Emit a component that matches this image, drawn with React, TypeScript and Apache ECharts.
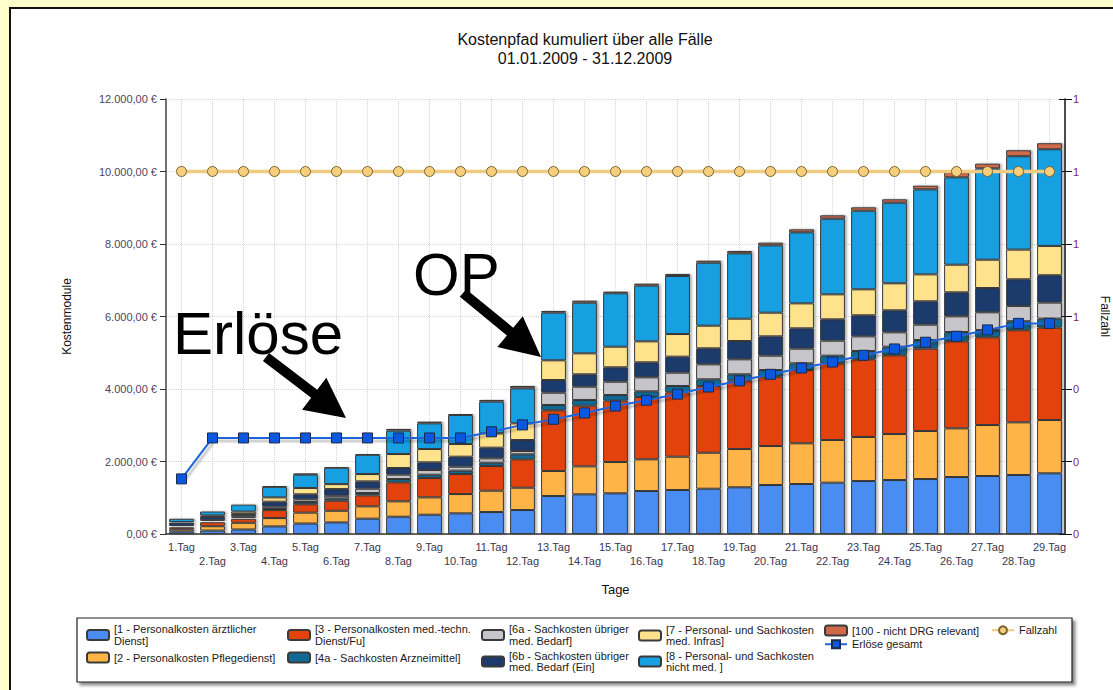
import React, { useEffect, useRef } from 'react';
import * as echarts from 'echarts';

const FONT = "'Liberation Sans', Arial, sans-serif";

const days = [
  '1.Tag', '2.Tag', '3.Tag', '4.Tag', '5.Tag', '6.Tag', '7.Tag', '8.Tag', '9.Tag', '10.Tag',
  '11.Tag', '12.Tag', '13.Tag', '14.Tag', '15.Tag', '16.Tag', '17.Tag', '18.Tag', '19.Tag', '20.Tag',
  '21.Tag', '22.Tag', '23.Tag', '24.Tag', '25.Tag', '26.Tag', '27.Tag', '28.Tag', '29.Tag',
];

const k1 = [70, 95, 125, 210, 290, 320, 423, 478, 533, 570, 607, 662, 1048, 1094, 1122, 1186, 1214, 1250, 1288, 1352, 1379, 1416, 1462, 1490, 1517, 1572, 1600, 1628, 1674];
const k2 = [60, 120, 185, 230, 300, 322, 340, 423, 478, 533, 588, 616, 690, 772, 864, 874, 919, 993, 1057, 1076, 1123, 1177, 1214, 1269, 1324, 1343, 1407, 1453, 1471];
const k3 = [55, 110, 110, 221, 230, 276, 303, 524, 534, 552, 681, 782, 1674, 1674, 1692, 1719, 1775, 1840, 1885, 1912, 2022, 2115, 2143, 2170, 2272, 2400, 2419, 2540, 2550];
const k4a = [20, 25, 25, 28, 64, 64, 64, 92, 92, 92, 92, 138, 147, 157, 156, 157, 175, 184, 175, 184, 184, 212, 229, 239, 239, 257, 202, 248, 248];
const k6a = [15, 30, 45, 64, 73, 73, 120, 120, 129, 110, 119, 92, 340, 367, 368, 386, 368, 414, 414, 396, 405, 413, 405, 396, 423, 433, 488, 423, 441];
const k6b = [95, 90, 65, 138, 138, 184, 202, 184, 211, 276, 295, 303, 349, 341, 396, 414, 441, 441, 505, 533, 561, 589, 580, 607, 644, 662, 670, 735, 754];
const k7 = [15, 40, 65, 119, 175, 138, 202, 386, 368, 350, 395, 460, 543, 579, 570, 579, 625, 625, 616, 653, 689, 690, 717, 745, 744, 763, 782, 819, 809];
const k8 = [90, 110, 190, 290, 368, 450, 530, 644, 708, 800, 874, 965, 1315, 1398, 1471, 1536, 1600, 1738, 1803, 1857, 1959, 2087, 2169, 2224, 2345, 2409, 2519, 2575, 2667];
const k100 = [10, 15, 20, 30, 30, 30, 30, 46, 46, 28, 46, 65, 46, 55, 46, 55, 55, 55, 64, 74, 83, 92, 93, 93, 101, 138, 129, 165, 166];

const erloese = [1520, 2650, 2650, 2650, 2650, 2650, 2650, 2650, 2650, 2650, 2820, 3010, 3165, 3340, 3530, 3690, 3860, 4055, 4225, 4405, 4580, 4745, 4930, 5105, 5290, 5455, 5630, 5810, 5810];
const fallzahl = [1, 1, 1, 1, 1, 1, 1, 1, 1, 1, 1, 1, 1, 1, 1, 1, 1, 1, 1, 1, 1, 1, 1, 1, 1, 1, 1, 1, 1];

const barNames = [
  '[1 - Personalkosten ärztlicher Dienst]',
  '[2 - Personalkosten Pflegedienst]',
  '[3 - Personalkosten med.-techn. Dienst/Fu]',
  '[4a - Sachkosten Arzneimittel]',
  '[6a - Sachkosten übriger med. Bedarf]',
  '[6b - Sachkosten übriger med. Bedarf (Ein]',
  '[7 - Personal- und Sachkosten med. Infras]',
  '[8 - Personal- und Sachkosten nicht med. ]',
  '[100 - nicht DRG relevant]',
];
const barData = [k1, k2, k3, k4a, k6a, k6b, k7, k8, k100];
const barColors = ['#4A8DF2', '#FFB446', '#E4420B', '#106A96', '#C6C6CA', '#1D3A6D', '#FFE38C', '#17A0E2', '#D0694A'];
const legendLabels: Record<string, string> = {
  '[1 - Personalkosten ärztlicher Dienst]': '[1 - Personalkosten ärztlicher\nDienst]',
  '[2 - Personalkosten Pflegedienst]': '[2 - Personalkosten Pflegedienst]',
  '[3 - Personalkosten med.-techn. Dienst/Fu]': '[3 - Personalkosten med.-techn.\nDienst/Fu]',
  '[4a - Sachkosten Arzneimittel]': '[4a - Sachkosten Arzneimittel]',
  '[6a - Sachkosten übriger med. Bedarf]': '[6a - Sachkosten übriger\nmed. Bedarf]',
  '[6b - Sachkosten übriger med. Bedarf (Ein]': '[6b - Sachkosten übriger\nmed. Bedarf (Ein]',
  '[7 - Personal- und Sachkosten med. Infras]': '[7 - Personal- und Sachkosten\nmed. Infras]',
  '[8 - Personal- und Sachkosten nicht med. ]': '[8 - Personal- und Sachkosten\nnicht med. ]',
  '[100 - nicht DRG relevant]': '[100 - nicht DRG relevant]',
  'Erlöse gesamt': 'Erlöse gesamt',
  'Fallzahl': 'Fallzahl',
};
// legend placement: [name, left, top]
const legendPlaces: [string, number, number][] = [
  [barNames[0], 86, 623.5],
  [barNames[1], 86, 651.5],
  [barNames[2], 287, 623.5],
  [barNames[3], 287, 651.5],
  [barNames[4], 481, 623.5],
  [barNames[5], 481, 650],
  [barNames[6], 638, 624],
  [barNames[7], 638, 650],
  [barNames[8], 824, 624.5],
  ['Erlöse gesamt', 824, 638.5],
  ['Fallzahl', 991, 624.5],
];

function euro(v: number): string {
  const fixed = Math.abs(v).toFixed(2);
  const parts = fixed.split('.');
  const withDots = parts[0].replace(/\B(?=(\d{3})+(?!\d))/g, '.');
  return withDots + ',' + parts[1] + ' €';
}

function arrow(x1: number, y1: number, x2: number, y2: number, shaftW: number, headL: number, headW: number): number[][] {
  const dx = x2 - x1;
  const dy = y2 - y1;
  const len = Math.hypot(dx, dy);
  const ux = dx / len;
  const uy = dy / len;
  const nx = -uy;
  const ny = ux;
  const bx = x2 - ux * headL;
  const by = y2 - uy * headL;
  return [
    [x1 + (nx * shaftW) / 2, y1 + (ny * shaftW) / 2],
    [bx + (nx * shaftW) / 2, by + (ny * shaftW) / 2],
    [bx + (nx * headW) / 2, by + (ny * headW) / 2],
    [x2, y2],
    [bx - (nx * headW) / 2, by - (ny * headW) / 2],
    [bx - (nx * shaftW) / 2, by - (ny * shaftW) / 2],
    [x1 - (nx * shaftW) / 2, y1 - (ny * shaftW) / 2],
  ];
}

export default function App() {
  const ref = useRef<HTMLDivElement>(null);

  useEffect(() => {
    if (!ref.current) return;
    const chart = echarts.init(ref.current, undefined, { renderer: 'svg' });

    const barSeries = barNames.map((name, i) => ({
      type: 'bar',
      name,
      data: barData[i],
      stack: 'kosten',
      barWidth: '80%',
      itemStyle: {
        color: barColors[i],
        borderColor: '#3a3a3a',
        borderWidth: 1,
        shadowColor: 'rgba(0,0,0,0.3)',
        shadowBlur: 2,
        shadowOffsetX: 2,
        shadowOffsetY: 0,
      },
      emphasis: { disabled: true },
      z: 2,
    }));

    const legends = legendPlaces.map(([name, left, top]) => ({
      data: [name],
      left,
      top,
      orient: 'vertical',
      padding: 0,
      itemWidth: 22,
      itemHeight: 10,
      itemGap: 0,
      selectedMode: false,
      formatter: (n: string) => legendLabels[n] || n,
      textStyle: { fontSize: 11, lineHeight: 11.5, color: '#1a1a1a', fontFamily: FONT },
    }));

    const option: any = {
      animation: false,
      backgroundColor: '#FFFFCC',
      textStyle: { fontFamily: FONT },
      grid: { left: 166, right: 48, top: 99, bottom: 156, outerBoundsMode: 'none', containLabel: false },
      legend: legends,
      graphic: [
        {
          type: 'rect',
          z: -10,
          shape: { x: 10, y: 8, width: 1120, height: 700 },
          style: { fill: '#ffffff', stroke: '#111', lineWidth: 2 },
        },
        {
          type: 'rect',
          z: 1,
          shape: { x: 77, y: 618, width: 995, height: 64 },
          style: {
            fill: '#ffffff',
            stroke: '#222',
            lineWidth: 1.2,
            shadowColor: 'rgba(0,0,0,0.45)',
            shadowBlur: 3,
            shadowOffsetX: 3,
            shadowOffsetY: 3,
          },
        },
        {
          type: 'text',
          z: 10,
          x: 585,
          y: 30,
          style: {
            text: 'Kostenpfad kumuliert über alle Fälle\n01.01.2009 - 31.12.2009',
            fontSize: 16,
            lineHeight: 19,
            textAlign: 'center',
            fill: '#111',
            fontFamily: FONT,
          },
        },
        {
          type: 'text',
          z: 20,
          x: 173,
          y: 333,
          style: { text: 'Erlöse', fontSize: 60, fill: '#000', fontFamily: FONT, textVerticalAlign: 'middle', verticalAlign: 'middle' },
        },
        {
          type: 'text',
          z: 20,
          x: 413,
          y: 274,
          style: { text: 'OP', fontSize: 60, fill: '#000', fontFamily: FONT, textVerticalAlign: 'middle', verticalAlign: 'middle' },
        },
        {
          type: 'polygon',
          z: 20,
          shape: { points: arrow(266, 357, 346, 418, 10, 40, 40) },
          style: { fill: '#000' },
        },
        {
          type: 'polygon',
          z: 20,
          shape: { points: arrow(463, 293, 541, 357, 10, 40, 40) },
          style: { fill: '#000' },
        },
      ],
      xAxis: {
        type: 'category',
        data: days,
        axisLine: { lineStyle: { color: '#333', width: 1.5 } },
        axisTick: { alignWithLabel: true, length: 5, lineStyle: { color: '#333' } },
        axisLabel: {
          interval: 0,
          margin: 6,
          fontSize: 11,
          lineHeight: 14,
          color: '#3c3550',
          formatter: (v: string, i: number) => (i % 2 === 1 ? '\n' + v : v),
        },
        splitLine: { show: true, alignWithLabel: true, lineStyle: { color: '#d6d6d6', type: 'dotted' } },
        name: 'Tage',
        nameLocation: 'middle',
        nameGap: 49,
        nameTextStyle: { fontSize: 13, color: '#111' },
      },
      yAxis: [
        {
          type: 'value',
          min: 0,
          max: 12000,
          interval: 2000,
          axisLine: { show: true, lineStyle: { color: '#444', width: 1.5 } },
          axisTick: { show: true, length: 6, lineStyle: { color: '#333' } },
          axisLabel: { formatter: euro, fontSize: 11, margin: 9, color: '#4e3f5f' },
          splitLine: { show: true, lineStyle: { color: '#d6d6d6', type: 'dotted' } },
          name: 'Kostenmodule',
          nameLocation: 'middle',
          nameGap: 93,
          nameTextStyle: { fontSize: 12, color: '#111' },
        },
        {
          type: 'value',
          position: 'right',
          min: 0,
          max: 1.2,
          interval: 0.2,
          axisLine: { show: true, lineStyle: { color: '#111', width: 1.5 } },
          axisTick: { show: true, length: 7, lineStyle: { color: '#111' } },
          axisLabel: { formatter: (v: number) => String(Math.round(v)), fontSize: 11, margin: 8, color: '#7a1f6e' },
          splitLine: { show: false },
          name: 'Fallzahl',
          nameLocation: 'middle',
          nameGap: 34,
          nameRotate: -90,
          nameTextStyle: { fontSize: 12, color: '#111' },
        },
        {
          type: 'value',
          position: 'right',
          min: 0,
          max: 1.2,
          interval: 0.2,
          axisLine: { show: false },
          axisTick: { show: true, inside: true, length: 6, lineStyle: { color: '#111' } },
          axisLabel: { show: false },
          splitLine: { show: false },
        },
      ],
      series: [
        ...barSeries,
        {
          type: 'line',
          name: 'Erlöse gesamt',
          data: erloese,
          yAxisIndex: 0,
          symbol: 'rect',
          symbolSize: 10,
          z: 6,
          lineStyle: {
            color: '#1E64DC',
            width: 2,
            shadowColor: 'rgba(0,0,0,0.3)',
            shadowBlur: 2,
            shadowOffsetX: 2,
            shadowOffsetY: 3,
          },
          itemStyle: { color: '#0A58E0', borderColor: '#1B2A4A', borderWidth: 1 },
          emphasis: { disabled: true },
        },
        {
          type: 'line',
          name: 'Fallzahl',
          data: fallzahl,
          yAxisIndex: 1,
          symbol: 'circle',
          symbolSize: 10,
          z: 5,
          lineStyle: { color: '#EFCB82', width: 3.5 },
          itemStyle: { color: '#F6CF7C', borderColor: '#7C6330', borderWidth: 1 },
          emphasis: { disabled: true },
        },
      ],
    };

    chart.setOption(option);
    return () => chart.dispose();
  }, []);

  return <div ref={ref} style={{ position: 'absolute', left: 0, top: 0, width: 1113, height: 690 }} />;
}
